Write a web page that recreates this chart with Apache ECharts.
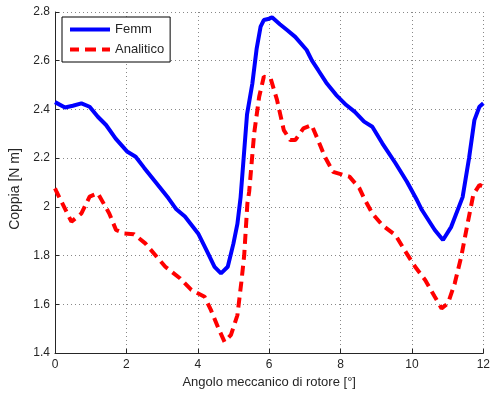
<!DOCTYPE html>
<html><head><meta charset="utf-8">
<script src="https://cdn.jsdelivr.net/npm/echarts@6/dist/echarts.min.js"></script>
<style>html,body{margin:0;padding:0;background:#fff}#c{width:493px;height:394px}</style>
</head><body><div id="c"></div>
<script>
const xTicks = [0, 2, 4, 6, 8, 10, 12];
const yTicks = [1.4, 1.6, 1.8, 2.0, 2.2, 2.4, 2.6, 2.8];
const femmX = [0,0.28,0.5,0.74,0.97,1.2,1.43,1.7,2.03,2.26,2.5,2.81,3.18,3.4,3.64,4.01,4.25,4.47,4.65,4.84,5.0,5.11,5.2,5.38,5.53,5.65,5.76,5.85,6.0,6.08,6.3,6.5,6.73,7.05,7.2,7.37,7.6,7.88,8.16,8.4,8.66,8.89,9.17,9.54,9.86,10.14,10.28,10.64,10.87,11.1,11.42,11.6,11.75,11.89,12];
const femmY = [2.43,2.408,2.415,2.425,2.411,2.37,2.336,2.28,2.226,2.206,2.16,2.103,2.035,1.99,1.96,1.891,1.82,1.754,1.727,1.754,1.85,1.93,2.04,2.38,2.507,2.65,2.74,2.767,2.772,2.778,2.75,2.726,2.698,2.644,2.6,2.562,2.51,2.459,2.418,2.39,2.35,2.329,2.261,2.179,2.103,2.028,1.987,1.905,1.864,1.918,2.04,2.2,2.356,2.411,2.425];
const anaX = [0,0.05,0.46,0.74,0.97,1.2,1.52,1.71,1.94,2.21,2.53,3.09,3.5,3.82,4.19,4.37,4.6,4.75,4.93,5.11,5.22,5.3,5.39,5.44,5.58,5.72,5.85,6.04,6.22,6.41,6.59,6.73,6.96,7.19,7.37,7.56,7.79,8.07,8.25,8.53,8.66,8.89,9.17,9.54,9.82,10.09,10.37,10.64,10.83,11.01,11.2,11.38,11.56,11.72,11.89,12];
const anaY = [2.076,2.06,1.939,1.973,2.042,2.056,1.973,1.905,1.891,1.888,1.85,1.754,1.707,1.659,1.631,1.576,1.494,1.446,1.474,1.555,1.69,1.8,2.014,2.062,2.302,2.452,2.534,2.528,2.439,2.315,2.274,2.274,2.322,2.336,2.274,2.206,2.144,2.131,2.124,2.076,2.035,1.973,1.925,1.884,1.816,1.754,1.7,1.631,1.583,1.604,1.686,1.795,1.932,2.05,2.09,2.083];
const seriesNames = ['Femm', 'Analitico'];

const zip = (a, b) => a.map((v, i) => [v, b[i]]);
const chart = echarts.init(document.getElementById('c'));
const txt = '#262626';
chart.setOption({
  animation: false,
  textStyle: { fontFamily: 'Liberation Sans, Arial, sans-serif' },
  grid: { left: 55, right: 4, top: 12, bottom: 41 },
  legend: {
    orient: 'vertical', left: 62, top: 17,
    padding: [6, 6, 6, 8], itemGap: 7, itemWidth: 40, itemHeight: 4,
    borderColor: '#000', borderWidth: 1, backgroundColor: '#fff',
    textStyle: { fontSize: 13, color: txt },
    data: [
      { name: seriesNames[0], icon: 'rect', itemStyle: { color: '#0000ff' } },
      { name: seriesNames[1], icon: 'path://M0,0h9v4h-9z M15,0h11v4h-11z M32,0h8v4h-8z', itemStyle: { color: '#ff0000' } }
    ]
  },
  xAxis: {
    type: 'value', min: xTicks[0], max: xTicks[xTicks.length - 1], interval: 2,
    name: 'Angolo meccanico di rotore [°]', nameLocation: 'middle', nameGap: 21,
    nameTextStyle: { fontSize: 13, color: txt },
    axisLine: { onZero: false, lineStyle: { color: txt, width: 1 } },
    axisTick: { inside: true, length: 4, lineStyle: { color: txt } },
    axisLabel: { fontSize: 12, color: txt, margin: 6 },
    splitLine: { show: true, lineStyle: { color: '#888', type: [1, 3], width: 1 } }
  },
  yAxis: {
    type: 'value', min: 1.4, max: 2.8, interval: 0.2,
    name: 'Coppia [N m]', nameLocation: 'middle', nameGap: 31,
    nameTextStyle: { fontSize: 14, color: txt, padding: [0, 13, 0, 0] },
    axisLine: { show: true, onZero: false, lineStyle: { color: txt, width: 1 } },
    axisTick: { show: true, inside: true, length: 4, lineStyle: { color: txt } },
    axisLabel: { fontSize: 12, color: txt, margin: 5,
      formatter: v => (Math.abs(v - 2) < 1e-9 ? '2' : v.toFixed(1)) },
    splitLine: { show: true, lineStyle: { color: '#888', type: [1, 3], width: 1 } }
  },
  series: [
    { name: seriesNames[0], type: 'line', data: zip(femmX, femmY), symbol: 'none',
      smooth: false, lineStyle: { color: '#0000ff', width: 4 }, itemStyle: { color: '#0000ff' } },
    { name: seriesNames[1], type: 'line', data: zip(anaX, anaY), symbol: 'none',
      smooth: false, lineStyle: { color: '#ff0000', width: 4, type: [10, 6] }, itemStyle: { color: '#ff0000' } }
  ]
});
</script></body></html>
